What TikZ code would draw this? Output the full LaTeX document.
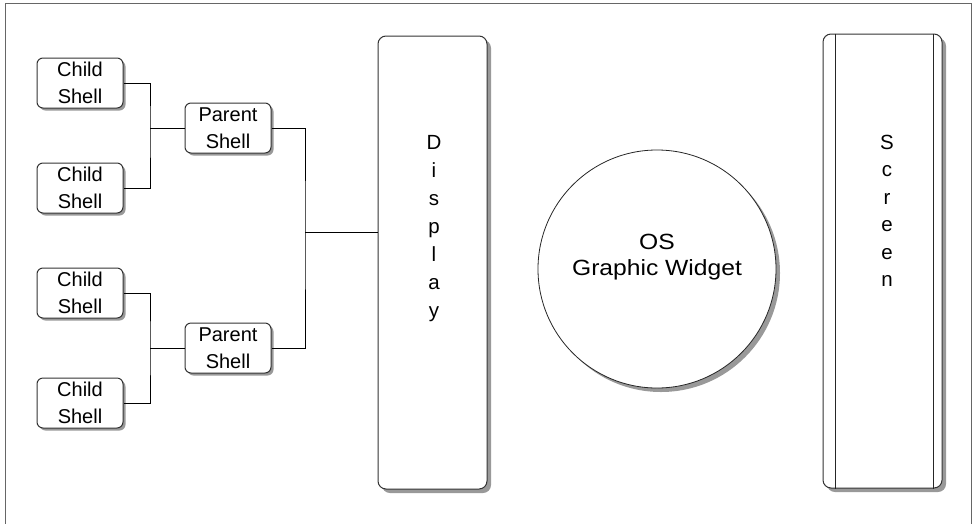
\documentclass[tikz,border=0pt]{standalone}
\usepackage{fontspec}
\setmainfont{Liberation Sans}
\newfontfamily\widesans{Liberation Sans}[FakeStretch=1.12]
\usetikzlibrary{shadows}

\tikzset{
  boxshadow/.style={drop shadow={shadow xshift=#1, shadow yshift=-#1, fill=black!40, opacity=1}},
  shellbox/.style={draw=black!80, line width=1pt, fill=white, rounded corners=6pt,
    minimum width=86pt, minimum height=50pt, inner sep=0pt, align=center,
    font=\fontsize{20}{26.5}\selectfont, boxshadow=2.5pt},
  tallbox/.style={draw=black!80, line width=1pt, fill=white, rounded corners=8pt,
    inner sep=0pt, boxshadow=4pt},
  widget/.style={circle, draw=black!85, line width=0.8pt, fill=white,
    minimum size=238pt, inner sep=0pt, boxshadow=4pt},
  vletter/.style={anchor=base, inner sep=0pt, font=\fontsize{20.5}{20.5}\selectfont},
  wire/.style={draw=black, line width=0.9pt},
}

\begin{document}
\begin{tikzpicture}[x=1pt, y=-1pt]
  \useasboundingbox (0,0) rectangle (972,523);

  % outer frame
  \draw[black!60, line width=1pt] (5.5,3.5) rectangle (971.5,540);

  % child and parent shells
  \node[shellbox] (c1) at (80,83)  {Child\\Shell};
  \node[shellbox] (c2) at (80,188) {Child\\Shell};
  \node[shellbox] (c3) at (80,293) {Child\\Shell};
  \node[shellbox] (c4) at (80,403) {Child\\Shell};
  \node[shellbox] (p1) at (228,128) {Parent\\Shell};
  \node[shellbox] (p2) at (228,348) {Parent\\Shell};

  % display column
  \node[tallbox, minimum width=109pt, minimum height=453pt] (disp) at (432.5,262.5) {};
  \foreach \ch [count=\i] in {D,i,s,p,l,a,y}
    \node[vletter] (disp\i) at (434,121+28*\i) {\ch};

  % graphic widget
  \node[widget] (os) at (657,269) {};
  \node[align=center, inner sep=0pt, font=\widesans\fontsize{22}{25.5}\selectfont]
    (oslabel) at ([yshift=12pt]os.center) {OS\\Graphic Widget};

  % screen column
  \node[tallbox, minimum width=119pt, minimum height=454pt] (scr) at (882.5,261) {};
  \draw[black!85, line width=0.9pt] ([xshift=13pt]scr.north west) -- ([xshift=13pt]scr.south west);
  \draw[black!85, line width=0.9pt] ([xshift=-9pt]scr.north east) -- ([xshift=-9pt]scr.south east);
  \foreach \ch [count=\i] in {S,c,r,e,e,n}
    \node[vletter] (scr\i) at (887,121.5+27.5*\i) {\ch};

  % connectors
  \coordinate (j1) at (150,128);
  \coordinate (j2) at (150,348);
  \coordinate (j3) at (305,232);
  \draw[wire] (c1.east) -| (j1) |- (c2.east);
  \draw[wire] (j1) -- (p1.west);
  \draw[wire] (c3.east) -| (j2) |- (c4.east);
  \draw[wire] (j2) -- (p2.west);
  \draw[wire] (p1.east) -| (j3) |- (p2.east);
  \draw[wire] (j3) -- (j3 -| disp.west);
\end{tikzpicture}
\end{document}
